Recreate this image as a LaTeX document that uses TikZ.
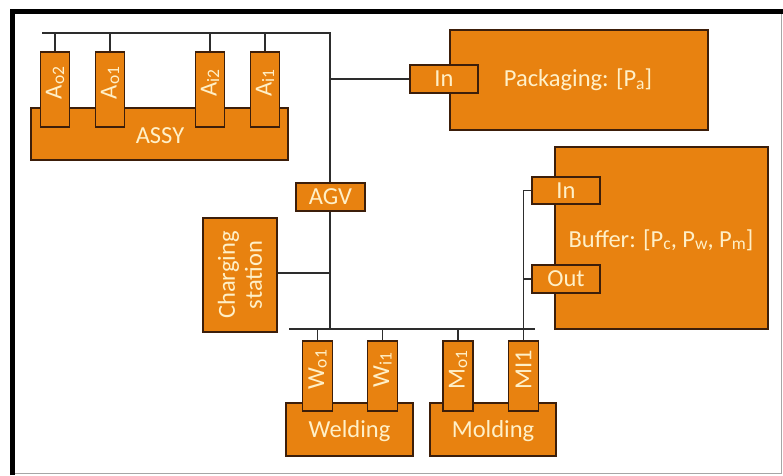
\documentclass[tikz,border=0pt]{standalone}
\usepackage{fontspec}
\setmainfont{Carlito}
\definecolor{orfill}{RGB}{232,130,16}
\definecolor{orline}{RGB}{60,30,10}
\definecolor{ortext}{RGB}{255,240,200}
\definecolor{wirec}{RGB}{45,45,45}
\newcommand\sbs[1]{\raisebox{-0.22ex}{\fontsize{17.5}{18}\selectfont #1}}
\begin{document}
\begin{tikzpicture}[x=1pt,y=-1pt,
  box/.style={draw=orline, fill=orfill, line width=1.4pt, inner sep=0pt},
  lbl/.style={text=ortext, inner sep=0pt, font=\fontsize{24.5}{26}\selectfont},
  vlbl/.style={lbl, rotate=90},
  wire/.style={draw=wirec, line width=1.4pt}]
\useasboundingbox (0,0) rectangle (783,475);
% frame
\draw[line width=5pt,black] (12.5,475) -- (12.5,11) -- (783,11);
\draw[line width=1pt,black!35] (15,473) -- (781,473) -- (781,14);

% top bus and trunk
\coordinate (bt1) at (42,33);
\coordinate (bt2) at (330,33);
\coordinate (bb1) at (289,329);
\coordinate (bb2) at (535,329);
\coordinate (bbt) at (330,329);
\coordinate (pkj) at (330,79);
\coordinate (chj) at (330,273);
\draw[wire] (bt1) -- (bt2) -- (bbt);
\draw[wire] (bb1) -- (bb2);

% ASSY
\node[box, minimum width=257pt, minimum height=52pt] (assy) at (159.5,134) {};
\node[lbl] at (160,136) {ASSY};
\foreach \n/\x/\t in {ao2/55/{A\sbs{o2}}, ao1/110/{A\sbs{o1}}, ai2/210/{A\sbs{i2}}, ai1/265/{A\sbs{i1}}}{
  \node[box, minimum width=29pt, minimum height=75pt] (\n) at (\x,89.5) {};
  \node[vlbl] at (\x,83) {\t};
  \draw[wire] (\n.north) -- (\n.north |- bt1);
}

% Packaging
\node[box, minimum width=258pt, minimum height=100pt] (pack) at (579,80) {};
\node[lbl] at (578,80) {Packaging: [P\sbs{a}]};
\node[box, minimum width=68pt, minimum height=28pt, lbl] (pin) at (444,79) {In};
\draw[wire] (pkj) -- (pin.west);

% AGV
\node[box, lbl, minimum width=69pt, minimum height=28pt] (agv) at (330.5,197) {AGV};

% Charging station
\node[box, minimum width=74pt, minimum height=114pt] (chg) at (240,275) {};
\node[vlbl, align=center, font=\fontsize{24.5}{27}\selectfont] at (240,275) {Charging\\station};
\draw[wire] (chg.east |- chj) -- (chj);

% Buffer
\node[box, minimum width=213pt, minimum height=182pt] (buf) at (661.5,238) {};
\node[lbl] at (661,240) {Buffer: [P\sbs{c}, P\sbs{w}, P\sbs{m}]};
\node[box, lbl, minimum width=68pt, minimum height=27pt] (bin) at (566,190.5) {In};
\node[box, lbl, minimum width=68pt, minimum height=28pt] (bout) at (566,279) {Out};

% Welding / Molding
\node[box, minimum width=127pt, minimum height=53pt] (weld) at (349.5,429.5) {};
\node[lbl] at (349.5,431) {Welding};
\node[box, minimum width=126pt, minimum height=53pt] (mold) at (493,429.5) {};
\node[lbl] at (493,431) {Molding};
\foreach \n/\x/\t in {wo1/317.5/{W\sbs{o1}}, wi1/382.5/{W\sbs{i1}}, mo1/458/{M\sbs{o1}}, mi1/523.5/{MI1}}{
  \node[box, minimum width=30pt, minimum height=70pt] (\n) at (\x,376) {};
  \node[vlbl] at (\x,370) {\t};
}
\foreach \n in {wo1,wi1,mo1}{\draw[wire] (\n.north) -- (\n.north |- bb1);}
% buffer vertical line
\coordinate (bv) at (mi1.north |- bin.west);
\draw[wire] (bin.west) -- (bv) -- (mi1.north);
\draw[wire] (bout.west) -- (bout.west -| bv);
\end{tikzpicture}
\end{document}
